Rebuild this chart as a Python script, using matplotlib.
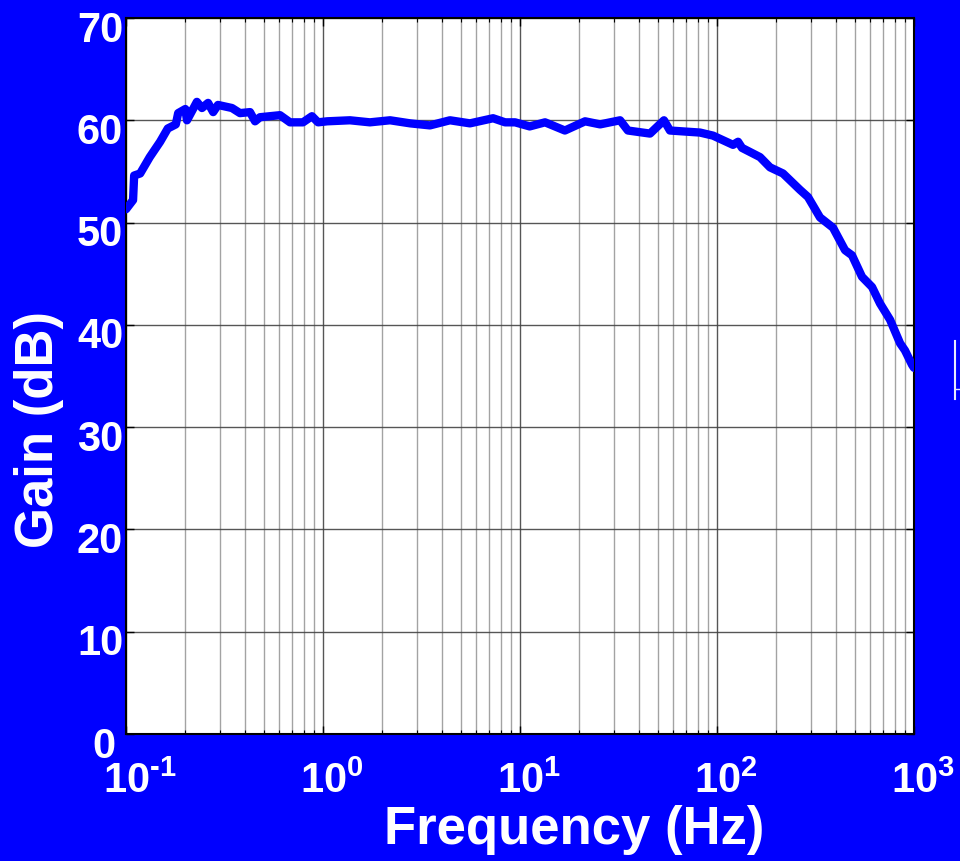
import matplotlib
matplotlib.use("Agg")
import matplotlib.pyplot as plt
import matplotlib.transforms as mtransforms
from matplotlib.lines import Line2D
from matplotlib.ticker import LogLocator, FixedLocator, NullFormatter

plt.rcParams['font.family'] = ['Liberation Sans', 'DejaVu Sans']
plt.rcParams['font.weight'] = 'bold'
plt.rcParams['mathtext.fontset'] = 'custom'
plt.rcParams['mathtext.rm'] = 'Liberation Sans:bold'
plt.rcParams['mathtext.it'] = 'Liberation Sans:bold'
plt.rcParams['mathtext.bf'] = 'Liberation Sans:bold'

# ---- data ----
freq_hz = [0.100, 0.1086, 0.110, 0.118, 0.132, 0.149, 0.163, 0.179, 0.184, 0.200,
           0.204, 0.229, 0.243, 0.261, 0.277, 0.293, 0.345, 0.379, 0.426, 0.452,
           0.479, 0.605, 0.680, 0.791, 0.879, 0.944, 1.05, 1.37, 1.73, 2.19,
           2.77, 3.49, 4.41, 5.57, 7.30, 8.40, 9.44, 11.2, 13.4, 16.9,
           21.4, 25.5, 32.2, 35.3, 45.7, 53.8, 57.7, 82.0, 95.5, 120.6,
           127.9, 134.0, 165.3, 185.8, 216.3, 263.8, 289.6, 333.3, 388.0, 446.6,
           484.4, 544.5, 612.3, 671.8, 755.8, 849.7, 900.0, 977.0, 1000.0]
gain_db = [51.3, 52.2, 54.6, 54.8, 56.4, 57.9, 59.2, 59.6, 60.7, 61.1,
           60.0, 61.8, 61.2, 61.7, 60.8, 61.5, 61.2, 60.7, 60.8, 59.9,
           60.3, 60.5, 59.8, 59.8, 60.4, 59.8, 59.9, 60.0, 59.8, 60.0,
           59.7, 59.5, 60.0, 59.7, 60.2, 59.8, 59.8, 59.4, 59.8, 59.0,
           59.9, 59.6, 60.0, 59.0, 58.7, 60.0, 59.0, 58.8, 58.5, 57.6,
           57.9, 57.3, 56.4, 55.4, 54.8, 53.2, 52.5, 50.5, 49.5, 47.3,
           46.8, 44.7, 43.7, 42.1, 40.5, 38.2, 37.5, 36.1, 35.8]
x_ticks = [0.1, 1, 10, 100, 1000]
x_tick_labels = ['$\\mathregular{10^{\u2010 1}}$', r'$\mathregular{10^{0}}$', r'$\mathregular{10^{1}}$',
                 r'$\mathregular{10^{2}}$', r'$\mathregular{10^{3}}$']
y_ticks = [0, 10, 20, 30, 40, 50, 60, 70]
x_label = 'Frequency (Hz)'
y_label = 'Gain (dB)'

BLUE = '#0000FF'
fig = plt.figure(figsize=(9.6, 8.61), dpi=100, facecolor=BLUE)
ax = fig.add_axes([126/960, 1-734/861, 788/960, 716/861])
ax.set_facecolor('white')

ax.plot(freq_hz, gain_db, color=BLUE, lw=6, solid_joinstyle='round', solid_capstyle='round',
        clip_on=True, zorder=3)

ax.set_xscale('log')
ax.set_xlim(0.1, 1000)
ax.set_ylim(0, 70)
ax.xaxis.set_major_locator(FixedLocator(x_ticks))
ax.set_xticklabels(x_tick_labels)
ax.xaxis.set_minor_locator(LogLocator(base=10, subs=range(2, 10), numticks=20))
ax.xaxis.set_minor_formatter(NullFormatter())
ax.set_yticks(y_ticks)
ax.set_yticklabels([str(v) for v in y_ticks])

ax.grid(True, which='major', color='#444444', lw=1.0, alpha=0.9)
ax.grid(True, which='minor', axis='x', color='#999999', lw=1.0, alpha=0.9)

ax.tick_params(which='both', direction='in', top=True, right=True, color='black')
ax.tick_params(which='major', length=6, width=1)
ax.tick_params(which='minor', length=3, width=0.8)
ax.tick_params(axis='x', which='major', labelsize=30, labelcolor='white', pad=20)
ax.tick_params(axis='y', which='major', labelsize=30, labelcolor='white', pad=2)
for sp in ax.spines.values():
    sp.set_color('black')
    sp.set_linewidth(1.5)

# x labels: "10" centred on tick, exponent hanging right
for lbl in ax.get_xticklabels():
    lbl.set_fontweight('bold')
    lbl.set_horizontalalignment('left')
    lbl.set_transform(lbl.get_transform() + mtransforms.ScaledTranslation(-23/100, 0, fig.dpi_scale_trans))
for i, lbl in enumerate(ax.get_yticklabels()):
    lbl.set_fontweight('bold')
    dx = -8/100 if i == 0 else 0
    lbl.set_transform(lbl.get_transform() + mtransforms.ScaledTranslation(dx, -8/100, fig.dpi_scale_trans))

fig.text(574/960, 1-830/861, x_label, color='white', fontsize=38, fontweight='bold',
         ha='center', va='center')
fig.text(39/960, 1-430/861, y_label, color='white', fontsize=38, fontweight='bold',
         ha='center', va='center', rotation=90)

# small stray mark at right edge of the reference
fig.add_artist(Line2D([955/960, 955/960], [1-341/861, 1-399/861], color='#e8e8ff', lw=1.5,
                      transform=fig.transFigure))
fig.add_artist(Line2D([956/960, 960/960], [1-389/861, 1-389/861], color='#e8e8ff', lw=1.0,
                      transform=fig.transFigure))

fig.savefig('out.png', dpi=100, facecolor=BLUE)
